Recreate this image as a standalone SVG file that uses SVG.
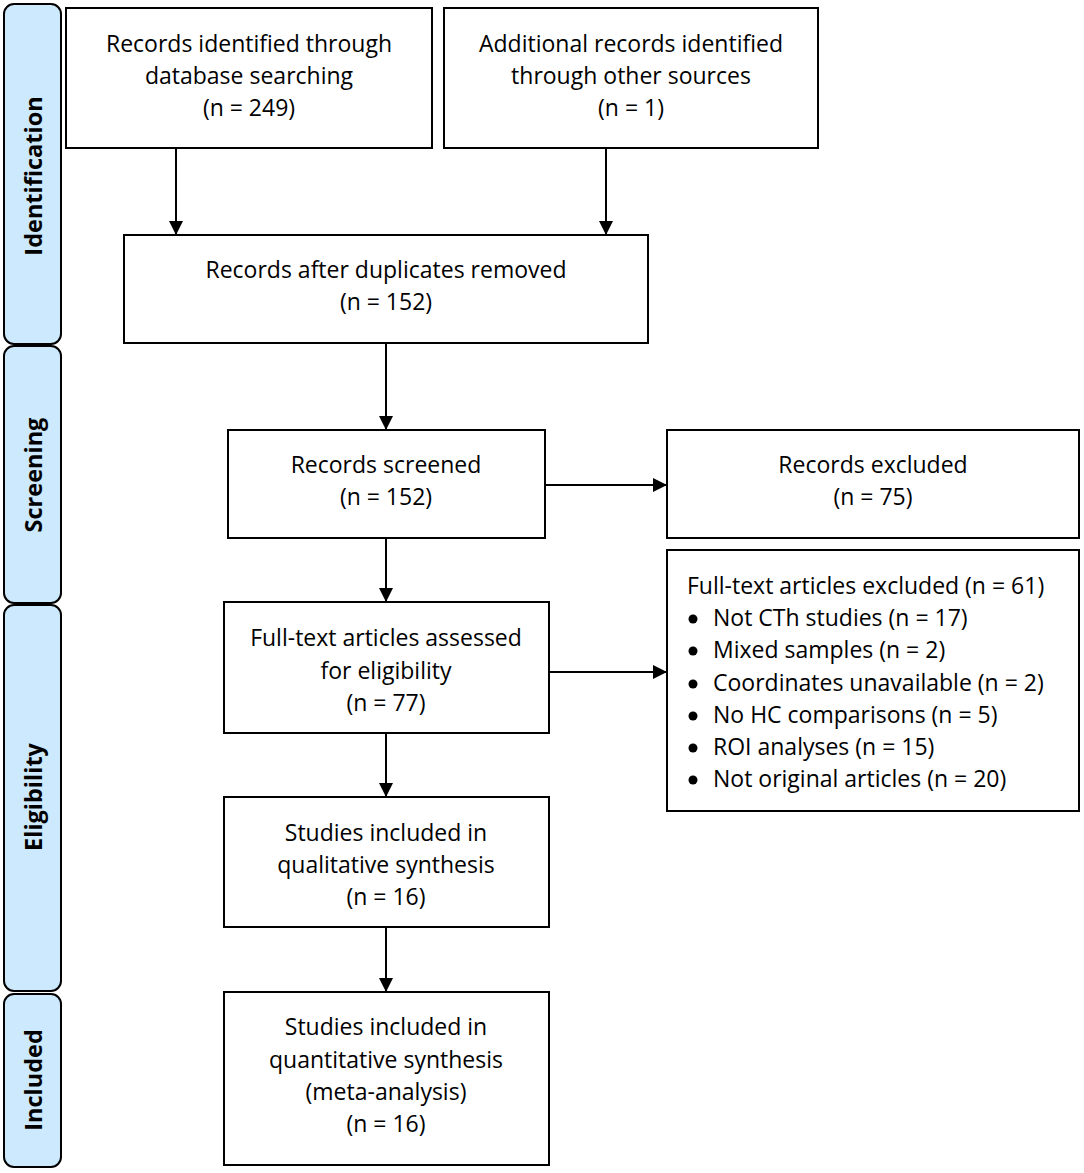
<svg xmlns="http://www.w3.org/2000/svg" width="1084" height="1173" viewBox="0 0 1084 1173">
<defs>
<style>
.box{fill:#fff;stroke:#000;stroke-width:2}
.stage{fill:#cce9fd;stroke:#000;stroke-width:2}
.t{font-family:"Open Sans","Noto Sans",sans-serif;font-size:23px;fill:#000}
.c{text-anchor:middle}
.s{font-family:"Open Sans","Noto Sans",sans-serif;font-size:23.5px;font-weight:bold;fill:#000;text-anchor:middle}
.ln{stroke:#000;stroke-width:2;fill:none}
</style>
<marker id="ah" viewBox="0 0 14 14" refX="14" refY="7" markerWidth="14" markerHeight="14" markerUnits="userSpaceOnUse" orient="auto">
<path d="M0,0 L14,7 L0,14 Z" fill="#000"/>
</marker>
</defs>
<rect width="1084" height="1173" fill="#fff"/>
<g id="stages">
<g id="stage-identification"><rect class="stage" x="4" y="4" width="57" height="340" rx="10"/><text class="s" transform="translate(42,176) rotate(-90)">Identification</text></g>
<g id="stage-screening"><rect class="stage" x="4" y="346" width="57" height="257" rx="10"/><text class="s" transform="translate(42,475) rotate(-90)">Screening</text></g>
<g id="stage-eligibility"><rect class="stage" x="4" y="605" width="57" height="386" rx="10"/><text class="s" transform="translate(42,797) rotate(-90)">Eligibility</text></g>
<g id="stage-included"><rect class="stage" x="4" y="994" width="57" height="173" rx="10"/><text class="s" transform="translate(42,1080) rotate(-90)">Included</text></g>
</g>
<g id="connectors">
<line class="ln" x1="176" y1="148" x2="176" y2="235" marker-end="url(#ah)"/>
<line class="ln" x1="606" y1="148" x2="606" y2="235" marker-end="url(#ah)"/>
<line class="ln" x1="386" y1="343" x2="386" y2="430" marker-end="url(#ah)"/>
<line class="ln" x1="545" y1="485" x2="667" y2="485" marker-end="url(#ah)"/>
<line class="ln" x1="386" y1="538" x2="386" y2="602" marker-end="url(#ah)"/>
<line class="ln" x1="549" y1="672" x2="667" y2="672" marker-end="url(#ah)"/>
<line class="ln" x1="386" y1="733" x2="386" y2="797" marker-end="url(#ah)"/>
<line class="ln" x1="386" y1="927" x2="386" y2="992" marker-end="url(#ah)"/>
</g>
<g id="n1"><rect class="box" x="66" y="8" width="366" height="140"/>
<text class="t c" x="249" y="52">Records identified through</text>
<text class="t c" x="249" y="84">database searching</text>
<text class="t c" x="249" y="116">(n = 249)</text></g>
<g id="n2"><rect class="box" x="444" y="8" width="374" height="140"/>
<text class="t c" x="631" y="52">Additional records identified</text>
<text class="t c" x="631" y="84">through other sources</text>
<text class="t c" x="631" y="116">(n = 1)</text></g>
<g id="n3"><rect class="box" x="124" y="235" width="524" height="108"/>
<text class="t c" x="386" y="278">Records after duplicates removed</text>
<text class="t c" x="386" y="310">(n = 152)</text></g>
<g id="n4"><rect class="box" x="228" y="430" width="317" height="108"/>
<text class="t c" x="386" y="473">Records screened</text>
<text class="t c" x="386" y="505">(n = 152)</text></g>
<g id="n5"><rect class="box" x="667" y="430" width="412" height="108"/>
<text class="t c" x="873" y="473">Records excluded</text>
<text class="t c" x="873" y="505">(n = 75)</text></g>
<g id="n6"><rect class="box" x="224" y="602" width="325" height="131"/>
<text class="t c" x="386" y="646">Full-text articles assessed</text>
<text class="t c" x="386" y="679">for eligibility</text>
<text class="t c" x="386" y="711">(n = 77)</text></g>
<g id="n7"><rect class="box" x="667" y="550" width="412" height="261"/>
<text class="t" x="687" y="594">Full-text articles excluded (n = 61)</text>
<circle cx="693" cy="619" r="4.5"/><text class="t" x="713" y="626">Not CTh studies (n = 17)</text>
<circle cx="693" cy="651" r="4.5"/><text class="t" x="713" y="658">Mixed samples (n = 2)</text>
<circle cx="693" cy="684" r="4.5"/><text class="t" x="713" y="691">Coordinates unavailable (n = 2)</text>
<circle cx="693" cy="716" r="4.5"/><text class="t" x="713" y="723">No HC comparisons (n = 5)</text>
<circle cx="693" cy="748" r="4.5"/><text class="t" x="713" y="755">ROI analyses (n = 15)</text>
<circle cx="693" cy="780" r="4.5"/><text class="t" x="713" y="787">Not original articles (n = 20)</text>
</g>
<g id="n8"><rect class="box" x="224" y="797" width="325" height="130"/>
<text class="t c" x="386" y="841">Studies included in</text>
<text class="t c" x="386" y="873">qualitative synthesis</text>
<text class="t c" x="386" y="905">(n = 16)</text></g>
<g id="n9"><rect class="box" x="224" y="992" width="325" height="173"/>
<text class="t c" x="386" y="1035">Studies included in</text>
<text class="t c" x="386" y="1068">quantitative synthesis</text>
<text class="t c" x="386" y="1100">(meta-analysis)</text>
<text class="t c" x="386" y="1132">(n = 16)</text></g>
</svg>
